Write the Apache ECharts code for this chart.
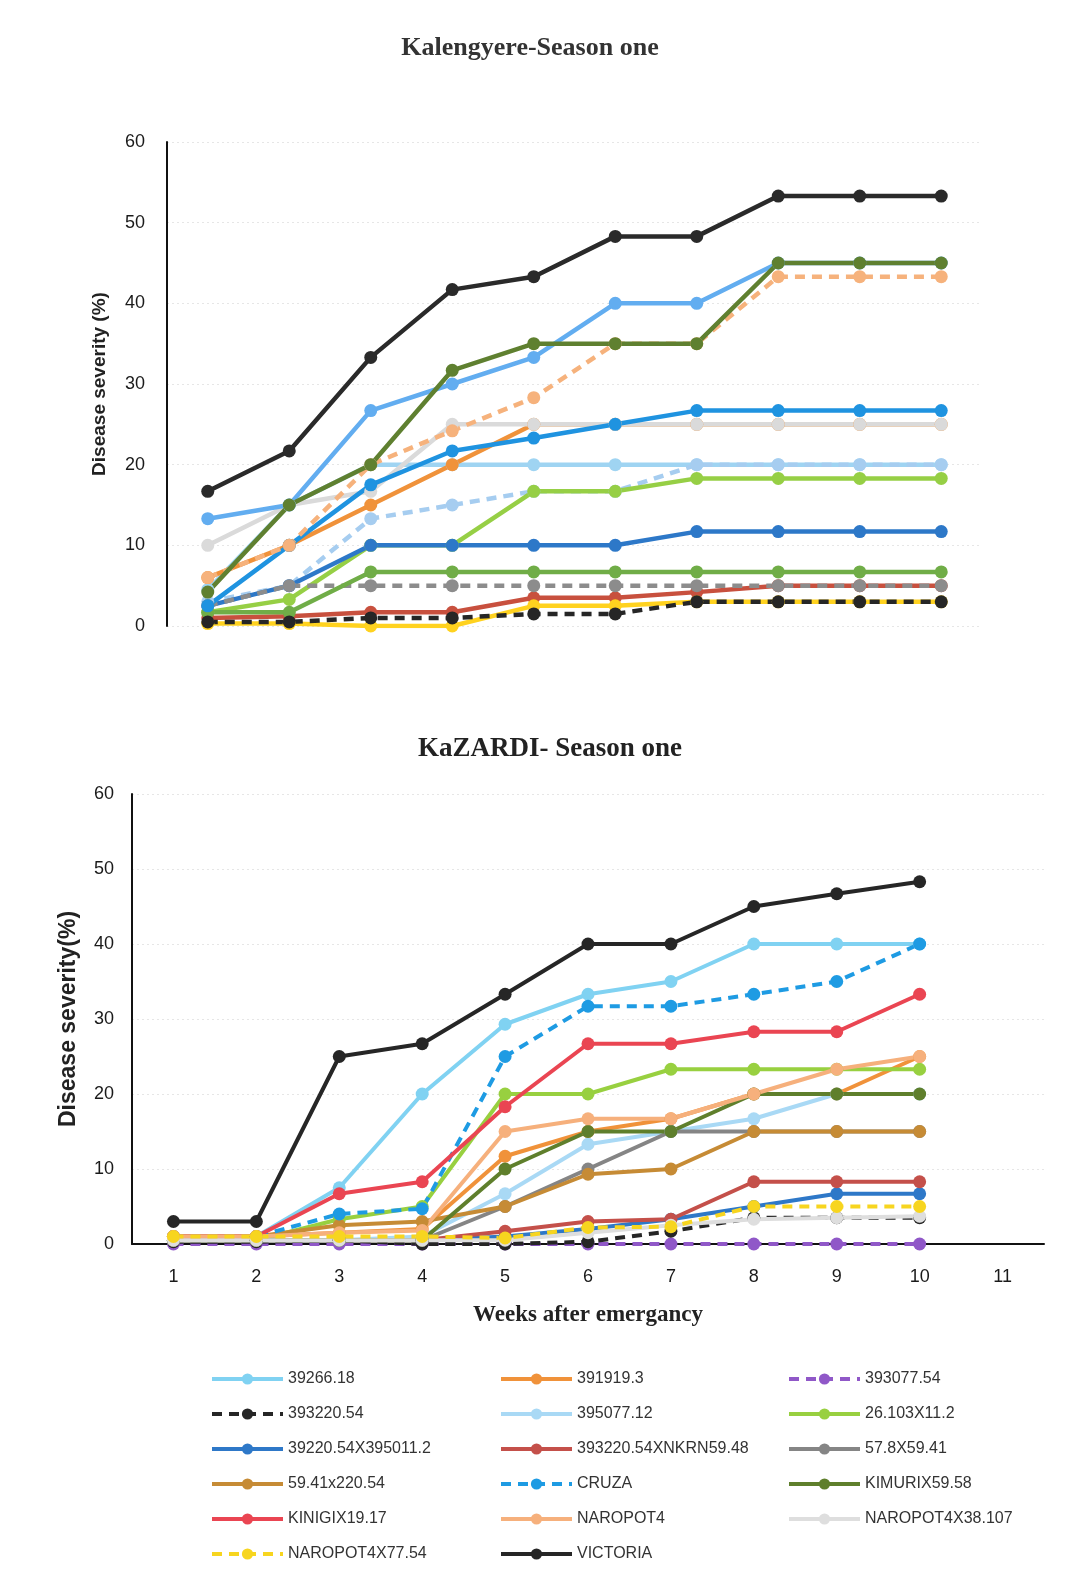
<!DOCTYPE html>
<html>
<head>
<meta charset="utf-8">
<script src="https://cdn.jsdelivr.net/npm/echarts@6/dist/echarts.min.js"></script>
<style>
html,body{margin:0;padding:0;background:#fff;}
#chart{width:1065px;height:1589px;}
</style>
</head>
<body>
<div id="chart"></div>
<script>
// ---------- Data ----------
const weeksTop = ['1','2','3','4','5','6','7','8','9','10'];
const weeksBottom = ['1','2','3','4','5','6','7','8','9','10','11'];
const yTicks = [0, 10, 20, 30, 40, 50, 60];

// Kalengyere - Season one (top chart)
const kal_VICTORIA      = [16.7, 21.7, 33.3, 41.7, 43.3, 48.3, 48.3, 53.3, 53.3, 53.3];
const kal_KINIGIX       = [13.3, 15, 26.7, 30, 33.3, 40, 40, 45, 45, 45];
const kal_KIMURIX       = [4.2, 15, 20, 31.7, 35, 35, 35, 45, 45, 45];
const kal_NAROPOT4      = [6, 10, 20, 24.2, 28.3, 35, 35, 43.3, 43.3, 43.3];
const kal_NAROPOT4X38   = [10, 15, 16.7, 25, 25, 25, 25, 25, 25, 25];
const kal_CRUZA         = [2.5, 10, 17.5, 21.7, 23.3, 25, 26.7, 26.7, 26.7, 26.7];
const kal_391919        = [6, 10, 15, 20, 25, 25, 25, 25, 25, 25];
const kal_39266         = [4.5, 15, 20, 20, 20, 20, 20, 20, 20, 20];
const kal_395077        = [3, 5, 13.3, 15, 16.7, 16.7, 20, 20, 20, 20];
const kal_26103         = [1.7, 3.3, 10, 10, 16.7, 16.7, 18.3, 18.3, 18.3, 18.3];
const kal_39220X        = [2.5, 5, 10, 10, 10, 10, 11.7, 11.7, 11.7, 11.7];
const kal_5941          = [1.7, 1.7, 6.7, 6.7, 6.7, 6.7, 6.7, 6.7, 6.7, 6.7];
const kal_578           = [2.5, 5, 5, 5, 5, 5, 5, 5, 5, 5];
const kal_NKRN          = [1, 1.2, 1.7, 1.7, 3.5, 3.5, 4.2, 5, 5, 5];
const kal_NAROPOT4X77   = [0.3, 0.3, 0, 0, 2.5, 2.5, 3, 3, 3, 3];
const kal_393220        = [0.5, 0.5, 1, 1, 1.5, 1.5, 3, 3, 3, 3];

// KaZARDI - Season one (bottom chart)
const kaz_39266   = [1, 1, 7.5, 20, 29.3, 33.3, 35, 40, 40, 40];
const kaz_391919  = [1, 1, 1.5, 2, 11.7, 15, 16.7, 20, 20, 25];
const kaz_393077  = [0, 0, 0, 0, 0, 0, 0, 0, 0, 0];
const kaz_393220  = [0.3, 0.3, 0.5, 0, 0, 0.3, 1.7, 3.5, 3.5, 3.5];
const kaz_395077  = [0.5, 0.5, 0.5, 1, 6.7, 13.3, 15, 16.7, 20, 20];
const kaz_26103   = [0.5, 0.5, 3.3, 5, 20, 20, 23.3, 23.3, 23.3, 23.3];
const kaz_39220X  = [0.5, 0.5, 0.5, 0.5, 1, 2, 3.3, 5, 6.7, 6.7];
const kaz_NKRN    = [0.5, 0.5, 0.5, 0.5, 1.7, 3, 3.3, 8.3, 8.3, 8.3];
const kaz_578     = [0.5, 0.5, 0.5, 0.5, 5, 10, 15, 15, 15, 15];
const kaz_5941    = [1, 1, 2.5, 3, 5, 9.3, 10, 15, 15, 15];
const kaz_CRUZA   = [1, 1, 4, 4.7, 25, 31.7, 31.7, 33.3, 35, 40];
const kaz_KIMURIX = [0.5, 0.5, 0.5, 0.5, 10, 15, 15, 20, 20, 20];
const kaz_KINIGIX = [1, 1, 6.7, 8.3, 18.3, 26.7, 26.7, 28.3, 28.3, 33.3];
const kaz_NAROPOT4     = [1, 1, 1.5, 1.8, 15, 16.7, 16.7, 20, 23.3, 25];
const kaz_NAROPOT4X38  = [0.5, 0.5, 0.5, 0.5, 0.5, 1.5, 2.5, 3.3, 3.5, 3.7];
const kaz_NAROPOT4X77  = [1, 1, 1, 1, 0.8, 2.2, 2.3, 5, 5, 5];
const kaz_VICTORIA     = [3, 3, 25, 26.7, 33.3, 40, 40, 45, 46.7, 48.3];

// Legend columns
const legendCol1 = ['39266.18', '393220.54', '39220.54X395011.2', '59.41x220.54', 'KINIGIX19.17', 'NAROPOT4X77.54'];
const legendCol2 = ['391919.3', '395077.12', '393220.54XNKRN59.48', 'CRUZA', 'NAROPOT4', 'VICTORIA'];
const legendCol3 = ['393077.54', '26.103X11.2', '57.8X59.41', 'KIMURIX59.58', 'NAROPOT4X38.107'];

// ---------- Styling ----------
const topDefs = [
  ['K 39266.18', kal_39266, '#9fd4f2', false],
  ['K 391919.3', kal_391919, '#f0923a', false],
  ['K 395077.12', kal_395077, '#a6cdf0', true],
  ['K 26.103X11.2', kal_26103, '#96cf45', false],
  ['K 39220.54X395011.2', kal_39220X, '#2d78c8', false],
  ['K 393220.54XNKRN59.48', kal_NKRN, '#c8503e', false],
  ['K 57.8X59.41', kal_578, '#8c8c8c', true],
  ['K 59.41x220.54', kal_5941, '#70ad47', false],
  ['K NAROPOT4X77.54', kal_NAROPOT4X77, '#ffd21f', false],
  ['K 393220.54', kal_393220, '#262626', true],
  ['K NAROPOT4X38.107', kal_NAROPOT4X38, '#dadada', false],
  ['K CRUZA', kal_CRUZA, '#1f93e0', false],
  ['K NAROPOT4', kal_NAROPOT4, '#f6b27c', true],
  ['K KINIGIX19.17', kal_KINIGIX, '#62adf0', false],
  ['K KIMURIX59.58', kal_KIMURIX, '#5f8030', false],
  ['K VICTORIA', kal_VICTORIA, '#2a2a2a', false]
];

const bottomDefs = [
  ['39266.18', kaz_39266, '#80d2f2', false],
  ['391919.3', kaz_391919, '#f0923a', false],
  ['393077.54', kaz_393077, '#9058c8', true],
  ['393220.54', kaz_393220, '#262626', true],
  ['395077.12', kaz_395077, '#a9d9f5', false],
  ['26.103X11.2', kaz_26103, '#98d040', false],
  ['39220.54X395011.2', kaz_39220X, '#2e78c8', false],
  ['393220.54XNKRN59.48', kaz_NKRN, '#c4504a', false],
  ['57.8X59.41', kaz_578, '#858585', false],
  ['59.41x220.54', kaz_5941, '#c68b35', false],
  ['CRUZA', kaz_CRUZA, '#1e9be3', true],
  ['KIMURIX59.58', kaz_KIMURIX, '#5f7f2c', false],
  ['KINIGIX19.17', kaz_KINIGIX, '#ea4552', false],
  ['NAROPOT4', kaz_NAROPOT4, '#f6b07c', false],
  ['NAROPOT4X38.107', kaz_NAROPOT4X38, '#dedede', false],
  ['NAROPOT4X77.54', kaz_NAROPOT4X77, '#f7d51f', true],
  ['VICTORIA', kaz_VICTORIA, '#262626', false]
];

function mkSeries(def, idx, w, sym) {
  return {
    name: def[0], type: 'line', data: def[1],
    xAxisIndex: idx, yAxisIndex: idx,
    symbol: 'circle', symbolSize: sym, showSymbol: true,
    lineStyle: { color: def[2], width: w, type: def[3] ? [10, 7] : 'solid' },
    itemStyle: { color: def[2] },
    emphasis: { disabled: true },
    animation: false
  };
}

const series = [];
topDefs.forEach(d => series.push(mkSeries(d, 0, 4.5, 13)));
bottomDefs.forEach(d => series.push(mkSeries(d, 1, 4, 13)));

const tickFont = { fontFamily: 'Liberation Sans', fontSize: 18, color: '#1a1a1a' };
const legendText = { fontFamily: 'Liberation Sans', fontSize: 16, color: '#333' };

function legendCol(left, data) {
  return {
    orient: 'vertical', left: left, top: 1366,
    itemWidth: 71, itemHeight: 14, itemGap: 19,
    lineStyle: { width: 4 },
    data: data, textStyle: legendText, selectedMode: false
  };
}

const option = {
  backgroundColor: '#fff',
  animation: false,
  title: [
    { text: 'Kalengyere-Season one', left: 525, top: 30, textAlign: 'center',
      textStyle: { fontFamily: 'Liberation Serif', fontWeight: 'bold', fontSize: 26, color: '#333' } },
    { text: 'KaZARDI- Season one', left: 545, top: 731, textAlign: 'center',
      textStyle: { fontFamily: 'Liberation Serif', fontWeight: 'bold', fontSize: 27, color: '#222' } }
  ],
  grid: [
    { left: 167, top: 142, width: 815, height: 484 },
    { left: 132, top: 794, width: 912, height: 450 }
  ],
  xAxis: [
    { type: 'category', gridIndex: 0, data: weeksTop, boundaryGap: true,
      axisLine: { show: false }, axisTick: { show: false }, axisLabel: { show: false } },
    { type: 'category', gridIndex: 1, data: weeksBottom, boundaryGap: true,
      axisLine: { show: true, lineStyle: { color: '#111', width: 2 } },
      axisTick: { show: false },
      axisLabel: Object.assign({ margin: 24 }, tickFont),
      name: 'Weeks after emergancy', nameLocation: 'middle', nameGap: 60,
      nameTextStyle: { fontFamily: 'Liberation Serif', fontWeight: 'bold', fontSize: 23, color: '#222' } }
  ],
  yAxis: [
    { type: 'value', gridIndex: 0, min: yTicks[0], max: yTicks[yTicks.length - 1], interval: 10,
      axisLine: { show: true, lineStyle: { color: '#111', width: 2 } },
      axisTick: { show: false },
      axisLabel: Object.assign({ margin: 22 }, tickFont),
      splitLine: { show: true, lineStyle: { color: '#e6e6e6', type: [2, 3], width: 1 } },
      name: 'Disease severity (%)', nameLocation: 'middle', nameGap: 58, nameRotate: 90,
      nameTextStyle: { fontFamily: 'Liberation Sans', fontWeight: 'bold', fontSize: 19, color: '#222' } },
    { type: 'value', gridIndex: 1, min: yTicks[0], max: yTicks[yTicks.length - 1], interval: 10,
      axisLine: { show: true, lineStyle: { color: '#111', width: 2 } },
      axisTick: { show: false },
      axisLabel: Object.assign({ margin: 18 }, tickFont),
      splitLine: { show: true, lineStyle: { color: '#e6e6e6', type: [2, 3], width: 1 } },
      name: 'Disease severity(%)', nameLocation: 'middle', nameGap: 52, nameRotate: 90,
      nameTextStyle: { fontFamily: 'Liberation Sans', fontWeight: 'bold', fontSize: 23, color: '#222' } }
  ],
  legend: [
    legendCol(205, legendCol1),
    legendCol(494, legendCol2),
    legendCol(782, legendCol3)
  ],
  series: series
};

const chart = echarts.init(document.getElementById('chart'), null, { renderer: 'canvas' });
chart.setOption(option);
</script>
</body>
</html>
